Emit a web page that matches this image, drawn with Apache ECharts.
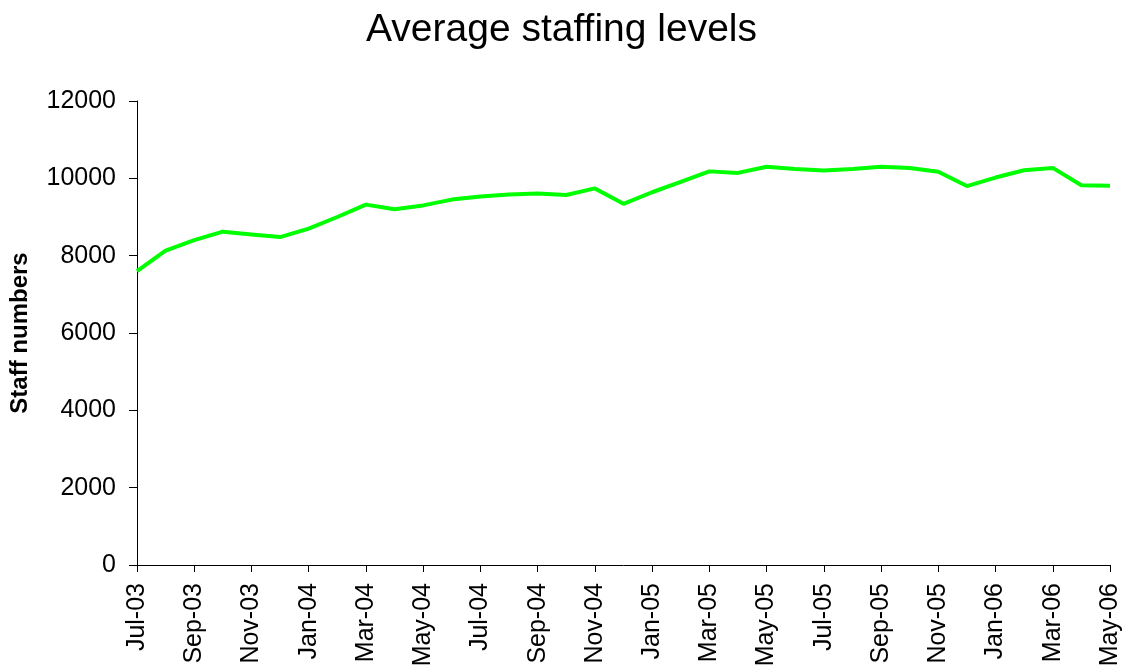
<!DOCTYPE html>
<html>
<head>
<meta charset="utf-8">
<script src="https://cdn.jsdelivr.net/npm/echarts@6/dist/echarts.min.js"></script>
<style>
html,body{margin:0;padding:0;background:#fff;}
#chart{width:1123px;height:671px;}
</style>
</head>
<body>
<div id="chart"></div>
<script>
var titleText = "Average staffing levels";
var yAxisName = "Staff numbers";
var months = ["Jul-03","Aug-03","Sep-03","Oct-03","Nov-03","Dec-03",
  "Jan-04","Feb-04","Mar-04","Apr-04","May-04","Jun-04","Jul-04","Aug-04","Sep-04","Oct-04","Nov-04","Dec-04",
  "Jan-05","Feb-05","Mar-05","Apr-05","May-05","Jun-05","Jul-05","Aug-05","Sep-05","Oct-05","Nov-05","Dec-05",
  "Jan-06","Feb-06","Mar-06","Apr-06","May-06"];
var staff = [7600, 8130, 8400, 8620, 8550, 8480,
  8700, 9000, 9320, 9200, 9300, 9450, 9530, 9580, 9610, 9570, 9740, 9340,
  9640, 9910, 10180, 10140, 10300, 10240, 10200, 10240, 10300, 10270, 10170, 9800,
  10020, 10210, 10270, 9820, 9810];
var yTicks = {min: 0, max: 12000, interval: 2000};

var chart = echarts.init(document.getElementById('chart'));
var font = "'Liberation Sans', Arial, sans-serif";
chart.setOption({
  animation: false,
  backgroundColor: '#ffffff',
  title: {
    text: titleText,
    left: 'center',
    top: 6,
    textStyle: {fontFamily: font, fontSize: 39, fontWeight: 'normal', color: '#000'}
  },
  grid: {left: 133, right: 13, top: 101, bottom: 106, containLabel: false},
  xAxis: {
    type: 'category',
    data: months,
    boundaryGap: false,
    axisLine: {lineStyle: {color: '#000', width: 1}},
    axisTick: {show: true, interval: 1, length: 7, lineStyle: {color: '#000'}},
    axisLabel: {interval: 1, rotate: 90, margin: 18, fontFamily: font, fontSize: 25, color: '#000'},
    splitLine: {show: false}
  },
  yAxis: {
    type: 'value',
    min: yTicks.min, max: yTicks.max, interval: yTicks.interval,
    name: yAxisName,
    nameLocation: 'middle',
    nameGap: 105,
    nameTextStyle: {fontFamily: font, fontSize: 24, fontWeight: 'bold', color: '#000'},
    axisLine: {show: true, lineStyle: {color: '#000', width: 1}},
    axisTick: {show: true, length: 8, lineStyle: {color: '#000'}},
    axisLabel: {margin: 21, fontFamily: font, fontSize: 25, color: '#000',
      formatter: function (v) { return String(v); }},
    splitLine: {show: false}
  },
  series: [{
    type: 'line',
    data: staff,
    symbol: 'none',
    lineStyle: {color: '#00ff00', width: 4},
    itemStyle: {color: '#00ff00'}
  }]
});
</script>
</body>
</html>
